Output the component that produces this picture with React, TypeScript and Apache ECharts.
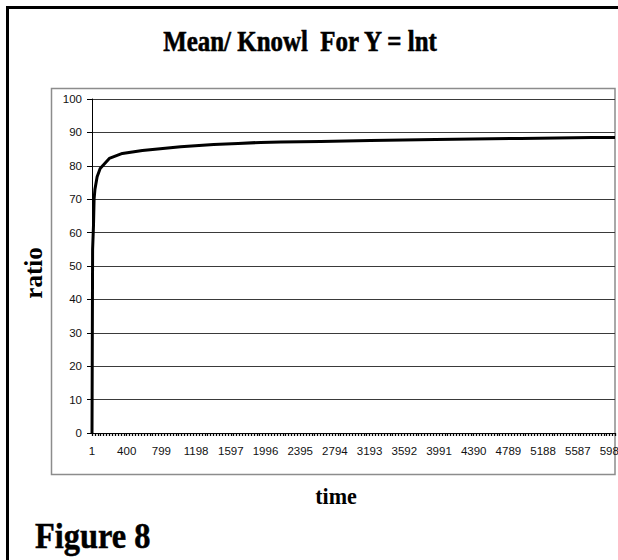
import React, { useEffect, useRef } from "react";
import * as echarts from "echarts";

const times = [1, 8, 18, 25, 35, 60, 95, 200, 350, 580, 1020, 1400, 1680, 1940, 2170, 2630, 3200, 3950, 4930, 5750, 6015];
const ratios = [0, 55, 62, 70, 73, 76.7, 79.2, 82.2, 83.7, 84.6, 85.7, 86.4, 86.7, 87.0, 87.1, 87.3, 87.6, 87.9, 88.2, 88.5, 88.5];
const yTicks = [0, 10, 20, 30, 40, 50, 60, 70, 80, 90, 100];
const labelStep = 399;
const lastIndex = 6014;

const serif = "'Liberation Serif', 'Times New Roman', serif";
const sans = "'Liberation Sans', Arial, sans-serif";

export default function App() {
  const ref = useRef<HTMLDivElement>(null);
  useEffect(() => {
    if (!ref.current) return;
    const chart = echarts.init(ref.current, null, { renderer: "svg" });
    chart.setOption({
      animation: false,
      backgroundColor: "#fff",
      grid: { left: 92, top: 99, right: 3, bottom: 127, containLabel: false, outerBoundsMode: "none" },
      xAxis: {
        type: "value",
        min: 0,
        max: lastIndex,
        interval: labelStep,
        axisLine: { show: true, lineStyle: { color: "#000", width: 1 } },
        axisTick: { show: true, length: 3, lineStyle: { color: "#000", width: 1.3 } },
        minorTick: { show: true, splitNumber: 12, length: 3, lineStyle: { color: "#000", width: 1.3 } },
        axisLabel: {
          color: "#111",
          fontFamily: sans,
          fontSize: 11.5,
          margin: 12,
          showMaxLabel: false,
          hideOverlap: false,
          formatter: (v: number) => String(v + 1),
        },
        splitLine: { show: false },
      },
      yAxis: {
        type: "value",
        min: yTicks[0],
        max: yTicks[yTicks.length - 1],
        interval: 10,
        axisLine: { show: true, lineStyle: { color: "#000", width: 1 } },
        axisTick: { show: true, length: 5, lineStyle: { color: "#000" } },
        axisLabel: { color: "#111", fontFamily: sans, fontSize: 11.5, margin: 10 },
        splitLine: { show: true, lineStyle: { color: "#3a3a3a", width: 1 } },
      },
      series: [
        {
          type: "line",
          data: times.map((t, i) => [t - 1, ratios[i]]),
          showSymbol: false,
          lineStyle: { color: "#000", width: 3, join: "round" },
          z: 5,
        },
      ],
      graphic: [
        {
          type: "rect",
          shape: { x: 7.5, y: 7.5, width: 700, height: 700 },
          style: { fill: "none", stroke: "#000", lineWidth: 3 },
          z: -1,
        },
        {
          type: "rect",
          shape: { x: 51.5, y: 88.5, width: 563.5, height: 386 },
          style: { fill: "none", stroke: "#8c8c8c", lineWidth: 1.5 },
          z: -1,
        },
        {
          type: "text",
          x: 300,
          y: 41,
          scaleX: 0.86,
          style: {
            text: "Mean/ Knowl  For Y = lnt",
            fontFamily: serif,
            fontWeight: 900,
            fontSize: 29,
            fill: "#000",
            stroke: "#000",
            lineWidth: 0.6,
            align: "center",
            verticalAlign: "middle",
          },
        },
        {
          type: "text",
          x: 33,
          y: 273,
          rotation: Math.PI / 2,
          style: {
            text: "ratio",
            fontFamily: serif,
            fontWeight: "bold",
            fontSize: 25,
            fill: "#000",
            align: "center",
            verticalAlign: "middle",
          },
        },
        {
          type: "text",
          x: 336,
          y: 496,
          scaleX: 0.92,
          style: {
            text: "time",
            fontFamily: serif,
            fontWeight: "bold",
            fontSize: 24,
            fill: "#000",
            align: "center",
            verticalAlign: "middle",
          },
        },
        {
          type: "text",
          x: 35,
          y: 535,
          scaleX: 0.9,
          style: {
            text: "Figure 8",
            fontFamily: serif,
            fontWeight: "bold",
            fontSize: 36,
            fill: "#000",
            stroke: "#000",
            lineWidth: 0.5,
            align: "left",
            verticalAlign: "middle",
          },
        },
      ],
    });
    return () => chart.dispose();
  }, []);
  return (
    <div
      ref={ref}
      style={{ position: "absolute", left: 0, top: 0, width: 618, height: 560 }}
    />
  );
}
